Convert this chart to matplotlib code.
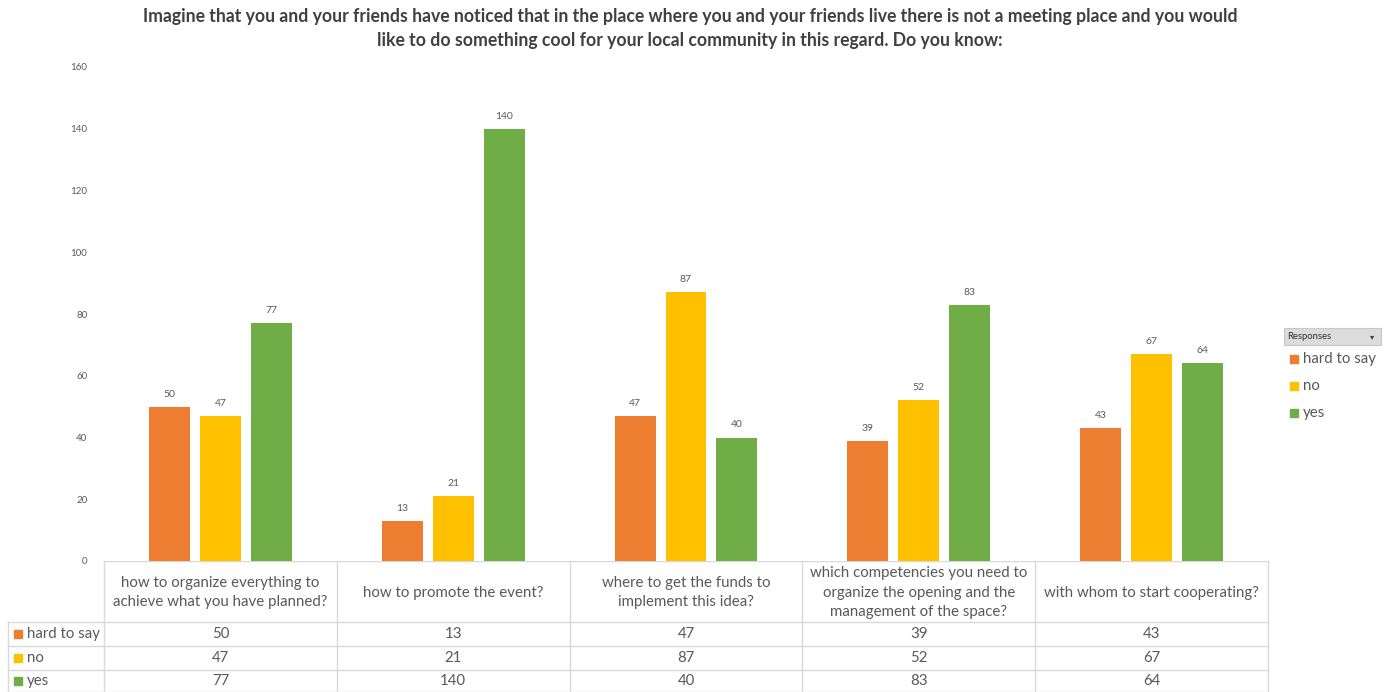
import matplotlib
matplotlib.use("Agg")
import matplotlib.pyplot as plt
from matplotlib.patches import Rectangle
import numpy as np

plt.rcParams['font.family'] = ['Lato', 'DejaVu Sans']

title = ("Imagine that you and your friends have noticed that in the place where you and your friends live there is not a meeting place and you would\n"
         "like to do something cool for your local community in this regard. Do you know:")

categories = [
    "how to organize everything to\nachieve what you have planned?",
    "how to promote the event?",
    "where to get the funds to\nimplement this idea?",
    "which competencies you need to\norganize the opening and the\nmanagement of the space?",
    "with whom to start cooperating?",
]
series_names = ["hard to say", "no", "yes"]
hard_to_say = [50, 13, 47, 39, 43]
no = [47, 21, 87, 52, 67]
yes = [77, 140, 40, 83, 64]
yticks = [0, 20, 40, 60, 80, 100, 120, 140, 160]

colors = ["#ED7D31", "#FFC000", "#70AD47"]
text_gray = "#595959"
grid_gray = "#D9D9D9"

W, H = 1391, 692
fig = plt.figure(figsize=(W / 100, H / 100), dpi=100)

ax_l, ax_r, ax_b, ax_t = 104, 1268, 561, 67
ax = fig.add_axes([ax_l / W, 1 - ax_b / H, (ax_r - ax_l) / W, (ax_b - ax_t) / H])

n = len(categories)
x = np.arange(n)
bar_w = 0.176
step = 0.219
all_series = [hard_to_say, no, yes]
for i, (vals, col) in enumerate(zip(all_series, colors)):
    pos = x + (i - 1) * step
    bars = ax.bar(pos, vals, width=bar_w, color=col, zorder=2)
    for b, v in zip(bars, vals):
        ax.text(b.get_x() + b.get_width() / 2, v + 2.6, str(v), ha="center", va="bottom",
                fontsize=7.5, color=text_gray)

ax.set_xlim(-0.5, n - 0.5)
ax.set_ylim(0, 160)
ax.set_yticks(yticks)
ax.set_yticklabels([str(t) for t in yticks], fontsize=7, color=text_gray)
ax.tick_params(axis="y", length=0, pad=12)
ax.set_xticks([])
for s in ax.spines.values():
    s.set_visible(False)

fig.suptitle(title, x=690 / W, y=1 - 8 / H, fontsize=12.7, fontweight="bold",
             color="#404040", linespacing=1.5, va="top")

# Data table drawn under the plot area, in pixel coordinates
def fx(px):
    return px / W

def fy(py):
    return 1 - py / H

col_edges = [ax_l + (ax_r - ax_l) * k / n for k in range(n + 1)]
row_edges = [561, 622, 646, 670, 692]
label_left = 8
cell_fs = 10.8

line_kw = dict(color=grid_gray, lw=1.0, transform=fig.transFigure, zorder=0)
# horizontal lines
fig.add_artist(plt.Line2D([fx(ax_l), fx(ax_r)], [fy(row_edges[0])] * 2, **line_kw))
for ry in row_edges[1:]:
    fig.add_artist(plt.Line2D([fx(label_left), fx(ax_r)], [fy(ry)] * 2, **line_kw))
# vertical lines
for cx in col_edges:
    fig.add_artist(plt.Line2D([fx(cx)] * 2, [fy(row_edges[0]), fy(row_edges[-1])], **line_kw))
fig.add_artist(plt.Line2D([fx(label_left)] * 2, [fy(row_edges[1]), fy(row_edges[-1])], **line_kw))

for k, cat in enumerate(categories):
    cx = (col_edges[k] + col_edges[k + 1]) / 2
    fig.text(fx(cx), fy((row_edges[0] + row_edges[1]) / 2 + 1), cat, ha="center", va="center",
             fontsize=cell_fs, color=text_gray, linespacing=1.5)
    for r, vals in enumerate(all_series):
        cy = (row_edges[r + 1] + row_edges[r + 2]) / 2
        fig.text(fx(cx), fy(cy), str(vals[k]), ha="center", va="center",
                 fontsize=cell_fs, color=text_gray)

for r, (name, col) in enumerate(zip(series_names, colors)):
    cy = (row_edges[r + 1] + row_edges[r + 2]) / 2
    fig.add_artist(Rectangle((fx(14), fy(cy + 4)), 8 / W, 8 / H, color=col,
                             transform=fig.transFigure))
    fig.text(fx(27), fy(cy), name, ha="left", va="center", fontsize=cell_fs, color=text_gray)

# Legend with a field-button header
fig.add_artist(Rectangle((fx(1284), fy(345)), 97 / W, 17 / H, facecolor="#DCDCDC",
                         edgecolor="#C8C8C8", lw=0.8, transform=fig.transFigure))
fig.text(fx(1287), fy(336.5), "Responses", ha="left", va="center", fontsize=6.8,
         color="#303030")
fig.text(fx(1372), fy(337), "\u25BE", ha="center", va="center", fontsize=6,
         color="#404040", family="DejaVu Sans")
for r, (name, col) in enumerate(zip(series_names, colors)):
    cy = 359 + 27 * r
    fig.add_artist(Rectangle((fx(1290), fy(cy + 4)), 8 / W, 8 / H, color=col,
                             transform=fig.transFigure))
    fig.text(fx(1303), fy(cy), name, ha="left", va="center", fontsize=10.8, color=text_gray)

fig.savefig("out.png", dpi=100)
